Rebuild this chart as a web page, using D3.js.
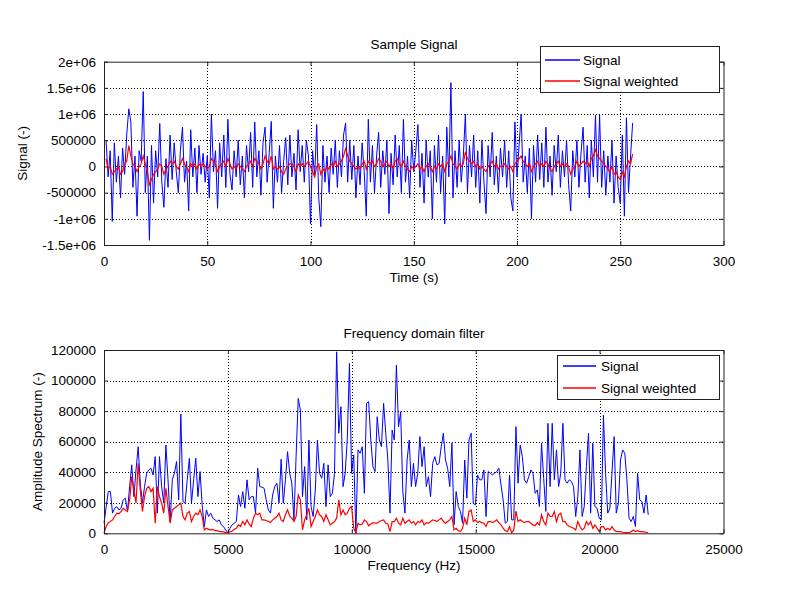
<!DOCTYPE html>
<html><head><meta charset="utf-8">
<script src="https://cdn.jsdelivr.net/npm/d3@7"></script>
<style>
body{margin:0;background:#fff}
text{font-family:"Liberation Sans",Arial,Helvetica,sans-serif;fill:#000}
</style>
</head><body>
<svg id="c" width="800" height="600"></svg>
<script>
// ---------- DATA ----------
// Sample signal, time index 1..256, values in thousands
const signalK = [
 500,-200,300,-1050,450,-300,200,-600,350,-150,600,1100,850,-400,200,-950,
 300,100,1430,-500,200,-1410,400,-700,300,-200,820,-300,-780,150,-400,600,
 -250,450,-100,-500,300,750,-300,100,-850,700,-200,350,-500,400,-150,250,
 -300,200,-600,1000,-100,300,-800,450,-200,600,-400,900,-150,-450,300,-200,
 500,-350,200,-600,400,-100,650,-400,850,-200,300,-550,450,750,-300,250,
 860,-800,200,-300,400,-500,100,550,-350,600,-200,250,-450,700,-100,400,
 -300,500,200,-1100,300,-200,800,-600,-1150,400,-300,200,-500,350,-150,500,
 -400,300,-200,600,830,-300,500,-250,400,-600,200,-350,450,-100,-950,900,
 -300,400,-500,200,650,-400,300,-150,500,-900,250,-350,600,-200,400,-500,
 900,-300,200,-600,500,-100,300,800,-400,250,-700,500,-200,300,-1000,400,
 -300,600,-500,200,-1100,750,-200,1600,-600,300,-400,500,-300,200,1000,-500,
 400,-200,600,-400,300,-700,500,-300,-900,400,-200,650,-350,200,-500,350,
 -200,500,-400,300,-600,-850,850,-200,400,1000,-300,200,-500,350,-1000,400,
 -300,600,-250,450,-400,750,-300,200,-550,400,-100,600,-400,300,-200,500,
 -350,-850,300,-200,500,-400,250,750,-300,400,-600,500,-200,980,-300,980,
 -400,300,-550,200,-300,500,-700,200,-400,-700,600,-950,930,-500,200,830
];
const weightedK = [
 150,-50,0,-150,-100,-50,0,-150,-100,50,100,400,200,50,0,-100,
 0,50,200,50,-100,-350,-250,-150,-100,-50,50,0,-150,-50,0,100,
 50,100,0,-50,50,150,50,0,-100,50,0,50,-50,50,0,50,
 0,-50,0,150,100,50,-100,0,50,100,0,150,50,-50,0,-50,
 50,0,-50,-100,0,50,100,0,150,100,50,-50,50,200,100,50,
 200,-50,0,-50,0,-100,-150,-50,0,50,50,0,-100,50,0,50,
 0,50,100,0,-100,-200,0,50,-150,-50,-100,0,-50,50,0,100,
 0,50,100,200,340,200,100,50,0,-50,0,-50,50,100,-50,100,
 50,100,0,50,150,100,0,50,100,0,50,-50,100,150,50,0,
 100,0,-50,-100,0,-50,0,50,-50,0,-100,0,50,0,-100,0,
 -50,50,0,50,-100,50,100,200,50,0,-50,50,0,50,280,150,
 100,50,100,0,50,-50,0,-50,-100,0,50,100,0,50,-50,0,
 0,50,0,-50,0,-100,50,100,150,200,100,50,0,50,-100,0,
 50,100,0,50,0,100,50,-50,-100,0,50,100,0,50,0,50,
 0,-150,-50,0,100,0,50,100,50,100,0,150,200,320,200,150,
 100,50,0,-50,-100,0,-150,-100,-200,-250,-100,-200,0,100,50,240
];
// Amplitude spectrum, bins k=0..255 (bin width 44100/512 Hz), values in thousands
const binWidthHz = 44100 / 512;
const spectrumK = [
 6.6,17,27.3,27.3,13.2,16.4,17.5,15.3,16.4,21.9,
 23,14.3,30.6,44.8,24,41.5,56.7,32.8,19.7,30.6,
 39.3,41.5,42.6,38.2,50.2,13.2,50.2,30.6,19.7,57.8,
 35,7.7,35,39.3,47,21.9,78.1,20.8,19.7,35,
 49.1,19.7,35,49.1,24,40.4,18.6,4.4,15.3,11,
 13.2,9.9,8.8,7.7,8.8,5.5,4.4,2.2,0.4,3.3,
 5.5,6.6,7.7,25.1,17.5,27.3,16.4,35,21.9,24,
 24,13.2,42.6,30.6,30.2,29.5,21.9,15.3,13.2,25.1,
 30.6,32.8,20,48.5,19.7,35,53.5,39.3,32.8,8.8,
 50.2,88.3,80.7,24,43.7,8.8,61.1,17.5,11,28.4,
 61.1,39.3,36,45.8,17.5,44.8,24,26.2,39.3,118.8,
 65.5,82.9,30.6,39.3,62.2,111.2,39.3,51.3,0,54.6,
 52.4,56.7,26.2,85.1,86.2,61.1,43.7,40.4,76.3,61.1,
 56.7,85.1,65.5,48,13.2,67.6,61.1,110.1,69.8,79.6,
 27.3,13.2,48,61.1,30.6,45.8,30.6,39.3,63.3,43.7,
 56.7,30.6,37.1,24,45.8,50.2,44.8,45.8,56.7,65.5,
 48,42.6,30.6,59,5.5,27.3,17.5,14.3,6.6,48,
 23,61.1,65.5,19.7,18.6,38.2,35,35,41.5,11,
 40.4,39.3,38.2,39.3,40.4,42.6,31.7,21.9,6.6,7.7,
 38.2,8.8,8.8,69.8,32.8,57.8,50.2,35,32.8,37.1,
 41.5,39.3,26.2,28.4,17.5,59,36,14.3,72,30.6,
 72,35,54.6,30.6,39.3,72,35,32.8,35,33.9,
 30.6,11,24,54.6,11,17.5,43.7,65.5,13.2,59,
 17.5,16.4,9.9,8.8,77.4,39.3,13.2,16.4,39.3,63.3,
 13.2,19.7,48,54.6,52.4,35,9.9,7.7,11,4.4,
 39.3,21.9,20.8,13.2,25.1,12.1
];
const spectrumWeightedK = [
 0,4.4,7,7.7,8.8,11,13.2,12.7,14.3,16.4,
 15.3,14.3,21.9,37.1,28.4,19.7,45.8,28.4,14.3,24,
 29.5,30.6,27.3,29.5,6.6,30.6,24,19.7,13.2,29.5,
 17.5,6.6,15.3,16.4,17.5,18.6,19.7,11,8.8,13.2,
 14.3,7.7,11,13.2,12.1,15.3,11,2.2,3.3,2.6,
 2.2,2.6,1.7,1.7,1.3,1.1,0.9,0.4,0.4,0.9,
 1.3,2.6,3.3,5.5,4.4,7.7,5.5,8.8,6.1,4.4,
 9.9,13.2,12.1,13.2,8.8,8.8,8.4,7.7,7,8.8,
 9.9,11,13.2,8.8,7.7,12.1,15.3,11.4,9.9,7.7,
 11,25.1,21.9,2.2,8.8,12.1,16.4,4.4,7.7,11,
 15.3,12.1,11,7.7,12.1,8.8,5.5,6.6,7.7,9.9,
 21.9,12.1,15.3,12.1,13.2,16.4,17.5,3.3,0.4,6.6,
 5.5,6.1,8.8,7.7,4.9,6.1,7,6.6,6.6,7.7,
 8.4,8.8,6.6,6.1,1.1,7.7,7.7,9.9,6.6,5.5,
 9.9,6.6,7.7,8.8,6.6,7.7,5.5,7.7,7,8.8,
 5.5,7,6.6,7.7,8.8,8.4,7.7,8.8,9.9,7.7,
 6.6,7.7,8.8,11,2.2,3.3,1.7,1.1,3.3,9.9,
 5.5,14.3,15.3,7.7,8.8,7,7.7,7,6.6,4.4,
 7.7,7.7,7,7.7,8.8,7,5.5,3.3,1.7,1.1,
 4.4,0.4,2.2,14.6,7.7,8.8,7.7,7,7.7,7.7,
 6.6,5.5,4.9,7,5.5,12.1,7.7,5.5,13.2,11,
 11,14.3,7.7,12.1,13.2,7.7,7.7,5.5,4.4,4,
 3.3,2.2,7.7,4.4,2.2,3.3,7.7,5.5,7.7,3.3,
 5.5,3.3,1.1,4.4,4.4,2.2,3.3,2.2,4.4,2.2,
 1.1,1.1,1.1,0.7,0.4,0.4,0.4,1.1,2.2,1.1,
 1.7,1.1,1.1,0.9,0.7,0.4
];
const seriesNames = ["Signal", "Signal weighted"];
const seriesColors = ["#0000ff", "#ff0000"];
const topYTicks = [-1500000,-1000000,-500000,0,500000,1000000,1500000,2000000];
const topYLabels = ["-1.5e+06","-1e+06","-500000","0","500000","1e+06","1.5e+06","2e+06"];
const topXTicks = [0,50,100,150,200,250,300];
const botXTicks = [0,5000,10000,15000,20000,25000];
const botYTicks = [0,20000,40000,60000,80000,100000,120000];

// ---------- BUILD ----------
const topData = [
  signalK.map((v,i)=>({x:i+1, y:v*1000})),
  weightedK.map((v,i)=>({x:i+1, y:v*1000}))
];
const botData = [
  spectrumK.map((v,i)=>({x:i*binWidthHz, y:v*1000})),
  spectrumWeightedK.map((v,i)=>({x:i*binWidthHz, y:v*1000}))
];

const svg = d3.select("#c");
const FONT = 13.5;
const legendLayer = [];

function panel(o){
  const g = svg.append("g");
  const x = d3.scaleLinear().domain(o.xDomain).range([104, 723.5]);
  const y = d3.scaleLinear().domain(o.yDomain).range([o.bottom, o.top]);

  // grid
  const gg = g.append("g").attr("stroke","#000").attr("stroke-width",1)
     .attr("stroke-dasharray","1,2").attr("shape-rendering","crispEdges");
  o.xTicks.slice(1,-1).forEach(t=>{
    gg.append("line").attr("x1",Math.round(x(t))+0.5).attr("x2",Math.round(x(t))+0.5)
      .attr("y1",o.top).attr("y2",o.bottom);
  });
  o.yTicks.slice(1,-1).forEach(t=>{
    gg.append("line").attr("y1",Math.round(y(t))+0.5).attr("y2",Math.round(y(t))+0.5)
      .attr("x1",104).attr("x2",723.5);
  });

  // data lines
  const line = d3.line().x(d=>x(d.x)).y(d=>y(d.y));
  o.data.forEach((s,i)=>{
    g.append("path").datum(s).attr("d",line).attr("fill","none")
     .attr("stroke",seriesColors[i]).attr("stroke-width",i===0?1:1.2);
  });

  // axes (ticks inward)
  const ax = (gen)=>gen.tickSizeInner(-4).tickSizeOuter(0);
  const xb = g.append("g").attr("transform",`translate(0,${o.bottom})`)
    .call(ax(d3.axisBottom(x).tickValues(o.xTicks).tickFormat(d3.format("d")).tickPadding(11)));
  const xt = g.append("g").attr("transform",`translate(0,${o.top})`)
    .call(ax(d3.axisTop(x).tickValues(o.xTicks).tickFormat("")));
  const yl = g.append("g").attr("transform",`translate(104,0)`)
    .call(ax(d3.axisLeft(y).tickValues(o.yTicks).tickFormat((d,i)=>o.yLabels[i]).tickPadding(8)));
  const yr = g.append("g").attr("transform",`translate(723.5,0)`)
    .call(ax(d3.axisRight(y).tickValues(o.yTicks).tickFormat("")));
  [xb,xt,yl,yr].forEach(a=>{
    a.selectAll("path,line").attr("stroke","#222").attr("stroke-width",1);
    a.selectAll("text").attr("font-size",FONT).attr("font-family",null).attr("fill","#000");
  });

  // title and labels
  g.append("text").attr("x",414).attr("y",o.top-12.5).attr("text-anchor","middle")
    .attr("font-size",FONT).text(o.title);
  g.append("text").attr("x",414).attr("y",o.bottom+37).attr("text-anchor","middle")
    .attr("font-size",FONT).text(o.xLabel);
  g.append("text").attr("transform",`translate(${o.yLabelX},${(o.top+o.bottom)/2}) rotate(-90)`)
    .attr("text-anchor","middle").attr("font-size",FONT).text(o.yLabel);

  legendLayer.push(o.legend);
}

function drawLegend(L){
  const lg = svg.append("g").attr("class","legend");
  lg.append("rect").attr("x",L.x).attr("y",L.y).attr("width",L.w).attr("height",L.h)
    .attr("fill","#fff").attr("stroke","#222").attr("stroke-width",1);
  seriesNames.forEach((n,i)=>{
    const yy = Math.round(L.y + L.row0 + i*L.dy);
    lg.append("rect").attr("x",L.lx1).attr("y",yy-0.75).attr("width",L.lx2-L.lx1).attr("height",1.5)
      .attr("fill",seriesColors[i]);
    lg.append("text").attr("x",L.tx).attr("y",yy).attr("dy","0.35em")
      .attr("font-size",FONT).text(n);
  });
}

panel({
  data: topData, xDomain:[0,300], yDomain:[-1500000,2000000],
  top:61.7, bottom:245, xTicks:topXTicks, yTicks:topYTicks, yLabels:topYLabels,
  title:"Sample Signal", xLabel:"Time (s)", yLabel:"Signal (-)", yLabelX:27,
  legend:{x:540.5,y:46.5,w:179,h:46,row0:13.5,dy:21,lx1:545,lx2:580,tx:583}
});
panel({
  data: botData, xDomain:[0,25000], yDomain:[0,120000],
  top:350, bottom:533.3, xTicks:botXTicks, yTicks:botYTicks, yLabels:botYTicks.map(String),
  title:"Frequency domain filter", xLabel:"Frequency (Hz)", yLabel:"Amplitude Spectrum (-)", yLabelX:42,
  legend:{x:557.5,y:355.5,w:162,h:44,row0:10,dy:22,lx1:563,lx2:596,tx:601}
});
legendLayer.forEach(drawLegend);
</script>
</body></html>
